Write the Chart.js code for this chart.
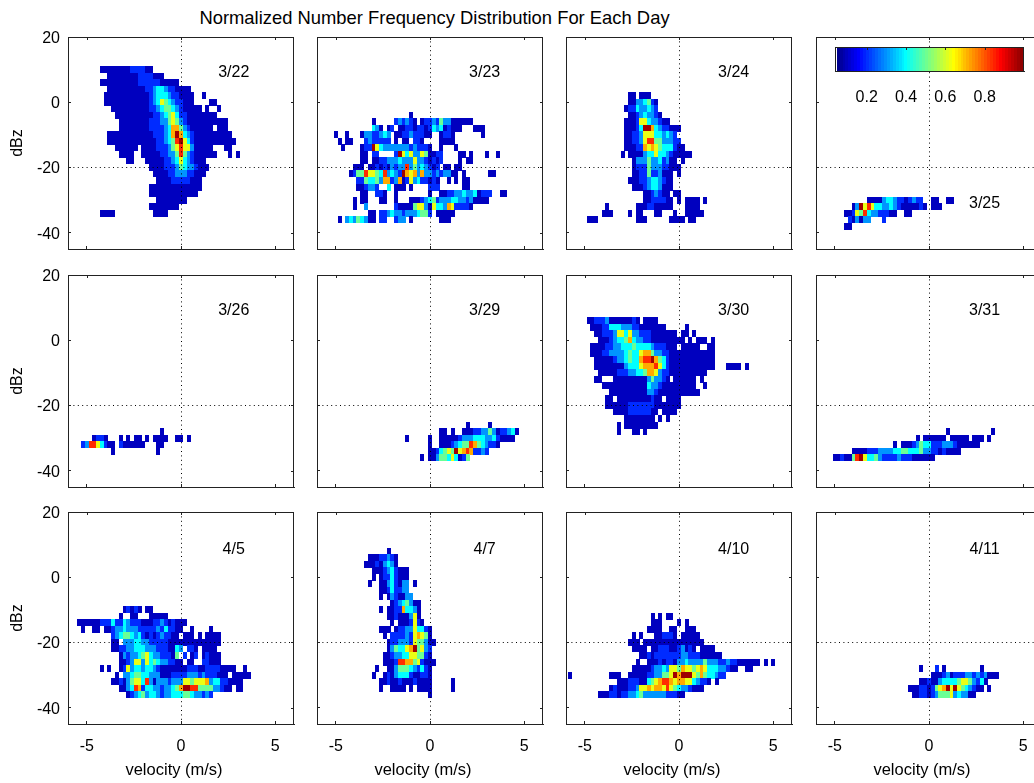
<!DOCTYPE html>
<html>
<head>
<meta charset="utf-8">
<title>Normalized Number Frequency Distribution For Each Day</title>
<script src="https://cdn.jsdelivr.net/npm/chart.js@4/dist/chart.umd.js"></script>
<style>
html, body { margin: 0; background: #fff; overflow: hidden; }
body { width: 1034px; height: 783px; position: relative; }
canvas { position: absolute; }
#title { position: absolute; left: 0; top: 7px; width: 869px; text-align: center;
  font: 18.4px "Liberation Sans", sans-serif; color: #000; white-space: nowrap; }
</style>
</head>
<body>
<div id="title">Normalized Number Frequency Distribution For Each Day</div>
<script>
// one row per dBz bin: [dBz, first velocity column, cells]
// velocity = column * velocityBin, cell digit = colour level, "." = no samples
const velocityBin = 0.2;
const dbzBin = 2;
const levelValues = [0.05, 0.1, 0.2, 0.3, 0.4, 0.5, 0.62, 0.72, 0.84, 0.97];

const days = ["3/22", "3/23", "3/24", "3/25", "3/26", "3/29", "3/30", "3/31", "4/5", "4/7", "4/10", "4/11"];
const dayLabelVelocity = [2.8, 2.9, 2.9, 2.95, 2.8, 2.9, 2.9, 2.95, 2.8, 2.9, 2.9, 2.95];
const dayLabelDbz = [9, 9, 9, -31, 9, 9, 9, 9, 8.6, 8.6, 8.6, 8.6];

const velocityTicks = [-5, 0, 5];
const dbzTicks = [20, 0, -20, -40];
const colorbarTicks = [0.2, 0.4, 0.6, 0.8];
const colorbarLevels = [0.055, 0.07, 0.085, 0.1, 0.115, 0.13, 0.145, 0.16, 0.175, 0.19, 0.205, 0.22, 0.235, 0.25, 0.265, 0.28,
  0.295, 0.31, 0.325, 0.34, 0.355, 0.37, 0.385, 0.4, 0.415, 0.43, 0.445, 0.46, 0.475, 0.49, 0.505, 0.52,
  0.535, 0.55, 0.565, 0.58, 0.595, 0.61, 0.625, 0.64, 0.655, 0.67, 0.685, 0.7, 0.715, 0.73, 0.745, 0.76,
  0.775, 0.79, 0.805, 0.82, 0.835, 0.85, 0.865, 0.88, 0.895, 0.91, 0.925, 0.94, 0.955, 0.97, 0.985, 1];

const day0322 = [
  [10, -21, "11111111222211"],
  [8, -19, "111111112222111"],
  [6, -21, "111111111122222211111"],
  [4, -19, "1111111111223443221111"],
  [2, -20, "111111111111234443221111..1"],
  [0, -20, "111111111111234654322111....11"],
  [-2, -18, "111111111122345543211111.1..1"],
  [-4, -17, "111111111122345642211111111"],
  [-6, -16, "11111111222335653211111111111"],
  [-8, -16, "1111111122223477532111111.111"],
  [-10, -19, "111111111111222347974321111111111"],
  [-12, -19, "1111111111111223458964211111111111"],
  [-14, -17, "111111.1111222356866311111...11"],
  [-16, -16, "1111..11111223358532111111...1.1"],
  [-18, -14, "11...1111122346432111"],
  [-20, -8, "1111222354332111"],
  [-22, -7, "11112233322111"],
  [-24, -6, "111122222111"],
  [-26, -8, "11111111111111"],
  [-28, -8, "1111111111111"],
  [-30, -6, "11111111"],
  [-32, -8, "11111111"],
  [-34, -21, "1111..........1111"]
];
const day0323 = [
  [-4, -5, "1"],
  [-6, -15, "1.....232321.12232533111111"],
  [-8, -15, "431.12.11221221243412111...111"],
  [-10, -25, "1..1...13322343.1122322211..1221.......1"],
  [-12, -24, "1.11...2322222.1.11.221....1111"],
  [-14, -23, "1....1229643333333232221..1...1"],
  [-16, -18, "11.22....2964633651122....11.1...1..1"],
  [-18, -18, "11.1122333433363321212....1.11"],
  [-20, -20, "111.1121213233835343212.11.11"],
  [-22, -21, "12558665483432976737332323311.1......11"],
  [-24, -19, "2254453772371263422121..1.1.11"],
  [-26, -19, "112332..4.111.1....222......11"],
  [-28, -18, "11..221..1........1..11223343341222..11"],
  [-30, -20, "1.11...11..1...111234523334433231111"],
  [-32, -20, "1..3.......211115663164437622221"],
  [-34, -16, "11.22343323334552.11111"],
  [-36, -24, "1.34354311.22..233.1.......111"]
];
const day0324 = [
  [2, -13, "11.111"],
  [0, -13, "11334521"],
  [-2, -14, "122433432"],
  [-4, -13, "112343321"],
  [-6, -14, "111266433211"],
  [-8, -14, "111249974322111"],
  [-10, -14, "11223666443432"],
  [-12, -14, "112236885533322"],
  [-14, -14, "1112276765444211"],
  [-16, -15, "1.11113446443211111"],
  [-18, -12, "133353342311.1"],
  [-20, -12, "1222533322111"],
  [-22, -12, "11225223111.1"],
  [-24, -13, "111223443211"],
  [-26, -12, "11123443111"],
  [-28, -9, "1123211.11"],
  [-30, -9, "11222211.1.1111.1"],
  [-32, -19, "1.......1112211111...1111"],
  [-34, -20, "111....1.11...11...1..11111"],
  [-36, -24, "111..........111......1111.11"]
];
const day0325 = [
  [-30, -16, "111134432212322..11..11"],
  [-32, -20, "13968644334321111121.111"],
  [-34, -22, "11265843322211..11"],
  [-36, -21, "213133...2"],
  [-38, -22, "11"]
];
const day0326 = [
  [-28, -5, "1"],
  [-30, -23, "1221...1.1.11.1.1111..11.1"],
  [-32, -26, "238864211.2111111...11"],
  [-34, -18, "1...........1"]
];
const day0329 = [
  [-26, 10, "1.....1"],
  [-28, 3, "11.1..111223353122341"],
  [-30, -6, "1.....1..11111233344433421111"],
  [-32, 0, "1..1112345587543221"],
  [-34, 0, "1124565967872232"],
  [-36, -2, "1.11355464125"]
];
const day0330 = [
  [6, -24, "11222311111121.1111"],
  [4, -23, "11122444333221111111.....1"],
  [2, -22, "1122236646332221111111.11.1"],
  [0, -21, "11123445743322111111111.1.111.1"],
  [-2, -23, "11112233444544443222111.11111..11"],
  [-4, -23, "111223333454467753322111111111111"],
  [-6, -22, "11111233454478897542111111111111"],
  [-8, -22, "1111111134446777864211111111 1111...1111.1".replace(" ", "")],
  [-10, -21, "11111222334457763221111111111"],
  [-12, -22, "11...111111111353321.111111.1"],
  [-14, -20, "1111111111114332111111111..1"],
  [-16, -18, "111111111133211111111111"],
  [-18, -19, "11.111111111211.1111"],
  [-20, -19, "11111122222221111111"],
  [-22, -17, "111122222211.1111"],
  [-24, -14, "11111111.1.1"],
  [-26, -16, "1.111111111"],
  [-28, -16, "1...11.1"]
];
const day0331 = [
  [-28, 5, "1...........1"],
  [-30, -3, "1.111111.11111.111.1"],
  [-32, -9, "1.111235442223332111111"],
  [-34, -20, "11112223333445544453322121111"],
  [-36, -25, "112115896445322223222111111"]
];
const day0405 = [
  [-10, -15, "12121.11"],
  [-12, -16, "1..11...11111"],
  [-14, -27, "11111122242243222111223212111"],
  [-16, -26, "1..11.112334333222223242211..1....1"],
  [-18, -18, "234554342121232211.111.1.1111"],
  [-20, -18, "11.33344332222211111111111111"],
  [-22, -18, "1122334443332221143.221.1111"],
  [-24, -16, "1323345643322215.2.12.12111"],
  [-26, -16, "11236636454332211.11..22111"],
  [-28, -21, "1.1..1263443443211111112221122221111..1"],
  [-30, -17, "1.33455443331112222333232221 11.11111".replace(" ", "")],
  [-32, -18, "11213566483133323336656667344221111"],
  [-34, -16, "113487244332334579988555533211.11"],
  [-36, -14, "12345344323344455433232"]
];
const day0407 = [
  [8, -11, "1"],
  [6, -16, "11122321"],
  [4, -17, "111213431"],
  [2, -15, "1112342111"],
  [0, -15, "1.12242111"],
  [-2, -16, "1..11342133.1"],
  [-4, -13, "11242233"],
  [-6, -13, "1.1321133"],
  [-8, -10, "12345311"],
  [-10, -13, "1.112274431"],
  [-12, -11, "112111361"],
  [-14, -10, "1.1112621"],
  [-16, -13, "111.1223364421"],
  [-18, -12, "1.22223267651"],
  [-20, -11, "1223332655311"],
  [-22, -11, "135446795632"],
  [-24, -12, "1123344665521"],
  [-26, -12, "11128877562111"],
  [-28, -14, "1..113555432421"],
  [-30, -15, "1..1213444211221"],
  [-32, -13, "11211211121111.....1"],
  [-34, -13, "1..1111.1.1111.....1"],
  [-36, 0, "1"]
];
const day0410 = [
  [-12, -7, "1.1.11"],
  [-14, -7, "111....1.1"],
  [-16, -8, "1111..11..111"],
  [-18, -12, "1.1...112221.11111"],
  [-20, -13, "111.1111111111111111"],
  [-22, -12, "1111.112221123121.1111"],
  [-24, -10, "1121222222233222111111"],
  [-26, -11, "1..111212213343333533322322111111.1.1"],
  [-28, -12, "1111123343665766567644433211..11"],
  [-30, -29, "1..........111..11111223355697999657544322"],
  [-32, -16, "1112221145678876776643221.1"],
  [-34, -18, "1211122366767768654332111"],
  [-36, -21, "11122122334533333322211"]
];
const day0411 = [
  [-28, -2, "1...2.1.........1"],
  [-30, 1, "111231222332323111"],
  [-32, -2, "112113444456653241"],
  [-34, -5, "11122125679696543211.1"],
  [-36, -4, "11221235556343311"]
];

const dayRows = [day0322, day0323, day0324, day0325, day0326, day0329, day0330, day0331, day0405, day0407, day0410, day0411];

function jet(v) {
  const t = (v - 0.04) / 0.96;
  const c = o => Math.round(255 * Math.max(0, Math.min(1, Math.min(4 * t - o + 1.5, -4 * t + o + 1.5))));
  return `rgb(${c(3)},${c(2)},${c(1)})`;
}

const cellImages = {};
function cellImage(color, w, h) {
  const key = color + w + "x" + h;
  if (!cellImages[key]) {
    const c = document.createElement("canvas");
    c.width = w;
    c.height = h;
    const g = c.getContext("2d");
    g.fillStyle = color;
    g.fillRect(0, 0, w, h);
    cellImages[key] = c;
  }
  return cellImages[key];
}

function toCells(rows) {
  const out = [];
  rows.forEach(([dbz, first, cells]) => {
    [...cells].forEach((ch, i) => {
      if (ch !== ".") out.push({ x: (first + i) * velocityBin, y: dbz, v: levelValues[+ch] });
    });
  });
  return out;
}

const fontFamily = "'Liberation Sans', sans-serif";
const font = { family: fontFamily, size: 16 };
const ink = "#222";
const tickLen = -3;

function fixedTicks(values) {
  return scale => { scale.ticks = values.map(value => ({ value })); };
}

function noPadding(s) {
  s.paddingLeft = s.paddingRight = s.paddingTop = s.paddingBottom = 0;
}

const plotW = 226, plotH = 212;
const plotLefts = [68, 317, 566, 816];
const plotTops = [37, 275, 512];
const gutterL = 68, gutterR = 8, gutterT = 10, gutterB = 56;

// top and right edge of the box, with the inward ticks the matlab axes have
const boxPlugin = {
  id: "box",
  afterDraw(chart) {
    const { ctx, chartArea: a, scales } = chart;
    ctx.save();
    ctx.strokeStyle = ink;
    ctx.lineWidth = 1;
    ctx.beginPath();
    ctx.moveTo(a.left, a.top + 0.5);
    ctx.lineTo(a.right, a.top + 0.5);
    ctx.moveTo(a.right - 0.5, a.top);
    ctx.lineTo(a.right - 0.5, a.bottom);
    if (chart.options.plugins.box.leftEdge) {
      ctx.moveTo(a.left + 0.5, a.top);
      ctx.lineTo(a.left + 0.5, a.bottom);
    }
    scales.x.ticks.forEach(t => {
      const x = Math.round(scales.x.getPixelForValue(t.value)) + 0.5;
      ctx.moveTo(x, a.top);
      ctx.lineTo(x, a.top + 3);
    });
    if (scales.y.options.display) {
      scales.y.ticks.forEach(t => {
        const y = Math.round(scales.y.getPixelForValue(t.value)) + 0.5;
        ctx.moveTo(a.right, y);
        ctx.lineTo(a.right - 3, y);
      });
    }
    ctx.stroke();
    ctx.restore();
  }
};

// day name inside the panel and the velocity label under the bottom row
const dayLabelPlugin = {
  id: "dayLabel",
  afterDraw(chart, args, opts) {
    const { ctx, scales, chartArea } = chart;
    ctx.save();
    ctx.fillStyle = "#000";
    ctx.font = "16px " + fontFamily;
    ctx.textAlign = "center";
    ctx.textBaseline = "middle";
    ctx.fillText(opts.text, scales.x.getPixelForValue(opts.velocity), scales.y.getPixelForValue(opts.dbz));
    if (opts.axisLabel) {
      ctx.font = "16.5px " + fontFamily;
      ctx.fillText(opts.axisLabel, scales.x.getPixelForValue(-0.37), chartArea.bottom + 46);
    }
    ctx.restore();
  }
};

function makeCanvas(left, top, w, h) {
  const c = document.createElement("canvas");
  c.style.left = left + "px";
  c.style.top = top + "px";
  c.style.width = w + "px";
  c.style.height = h + "px";
  c.width = w;
  c.height = h;
  document.body.appendChild(c);
  return c;
}

const cellW = Math.ceil(velocityBin * plotW / 12);
const cellH = Math.ceil(dbzBin * plotH / 65);

days.forEach((day, i) => {
  const col = i % 4, row = Math.floor(i / 4);
  const canvas = makeCanvas(plotLefts[col] - gutterL, plotTops[row] - gutterT, gutterL + plotW + gutterR, gutterT + plotH + gutterB);
  new Chart(canvas, {
    type: "scatter",
    data: {
      datasets: [{
        label: day,
        data: toCells(dayRows[i]),
        pointRadius: 1,
        pointStyle: c => cellImage(jet(c.raw.v), cellW, cellH)
      }]
    },
    options: {
      responsive: false,
      animation: false,
      events: [],
      layout: { padding: { top: gutterT, right: gutterR } },
      plugins: {
        legend: { display: false },
        tooltip: { enabled: false },
        box: {},
        dayLabel: {
          text: day, velocity: dayLabelVelocity[i], dbz: dayLabelDbz[i],
          axisLabel: row === 2 ? "velocity (m/s)" : ""
        }
      },
      scales: {
        x: {
          type: "linear", position: "bottom", min: -6, max: 6,
          afterBuildTicks: fixedTicks(velocityTicks),
          afterFit: s => { noPadding(s); s.height = gutterB; },
          // border has to draw after the grid, it reads the position the grid computes
          border: { color: ink, dash: [1, 3.4], z: 2 },
          grid: { z: 1, color: c => c.tick.value === 0 ? "#000" : "transparent", tickLength: tickLen, tickColor: ink },
          ticks: { display: row === 2, color: "#000", font, padding: 16, maxRotation: 0 }
        },
        y: {
          type: "linear", position: "left", min: -45, max: 20,
          afterBuildTicks: fixedTicks(dbzTicks),
          afterFit: s => { noPadding(s); s.width = gutterL; },
          border: { color: ink, dash: [1, 3.4], z: 2 },
          grid: { z: 1, color: c => c.tick.value === -20 ? "#000" : "transparent", tickLength: tickLen, tickColor: ink },
          // empty first line nudges the number down to where the original sits
          ticks: {
            display: col === 0, color: "#000", padding: 11,
            font: { family: fontFamily, size: 16, lineHeight: 0.2 },
            callback: v => ["", String(v)]
          },
          title: { display: col === 0, text: "dBz", color: "#000", font, padding: { top: 8, bottom: 0 } }
        }
      }
    },
    plugins: [dayLabelPlugin, boxPlugin]
  });
});

// colorbar sits on top of the 3/25 panel
const barLeft = 835, barTop = 47, barW = 189, barH = 29;
const barCanvas = makeCanvas(barLeft - 10, barTop - 5, barW + 19, barH + 45);
new Chart(barCanvas, {
  type: "scatter",
  data: {
    datasets: [{
      label: "colorbar",
      data: colorbarLevels.map(v => ({ x: v, y: 0.5 })),
      pointRadius: 1,
      pointStyle: c => cellImage(jet(c.raw.x), 3, barH)
    }]
  },
  options: {
    responsive: false,
    animation: false,
    events: [],
    layout: { padding: { left: 10, right: 9, top: 5 } },
    plugins: { legend: { display: false }, tooltip: { enabled: false }, box: { leftEdge: true } },
    scales: {
      x: {
        type: "linear", position: "bottom", min: 0.039, max: 1.0,
        afterBuildTicks: fixedTicks(colorbarTicks),
        afterFit: s => { noPadding(s); s.height = 45; },
        border: { color: ink },
        grid: { drawOnChartArea: false, tickLength: tickLen, tickColor: ink },
        ticks: { color: "#000", font, padding: 20, callback: v => v.toFixed(1), maxRotation: 0 }
      },
      y: { display: false, min: 0, max: 1 }
    }
  },
  plugins: [boxPlugin]
});
</script>
</body>
</html>
